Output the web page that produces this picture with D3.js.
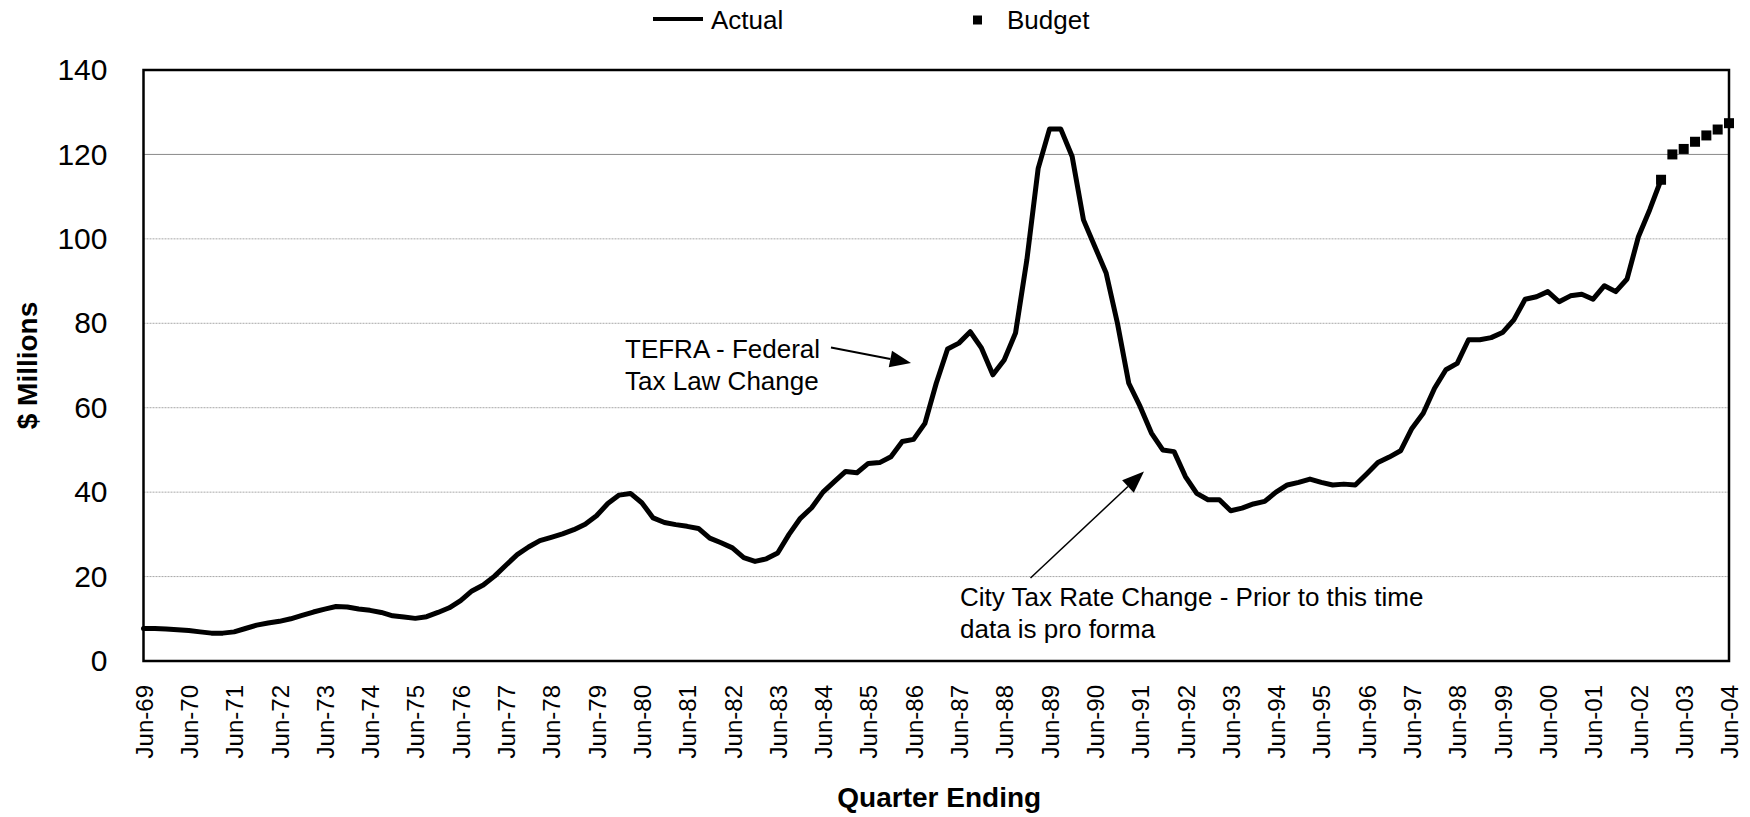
<!DOCTYPE html>
<html>
<head>
<meta charset="utf-8">
<script src="https://cdn.jsdelivr.net/npm/d3@7"></script>
<style>
  html, body { margin: 0; padding: 0; background: #fff; }
  svg { display: block; }
  text { font-family: "Liberation Sans", Arial, Helvetica, sans-serif; fill: #000; }
</style>
</head>
<body>
<svg id="chart" width="1750" height="817"></svg>
<script>
// Quarter-ending categories, Jun-69 through Jun-04
const monthNames = ["Jun", "Sep", "Dec", "Mar"];
const startYear = 1969;
const quarters = d3.range(141).map(i => {
  const m = monthNames[i % 4];
  const yr = startYear + Math.floor(i / 4) + (m === "Mar" ? 1 : 0);
  return m + "-" + String(yr % 100).padStart(2, "0");
});

// Tick labels (one per June)
const tickLabels = [
  "Jun-69","Jun-70","Jun-71","Jun-72","Jun-73","Jun-74","Jun-75","Jun-76","Jun-77",
  "Jun-78","Jun-79","Jun-80","Jun-81","Jun-82","Jun-83","Jun-84","Jun-85","Jun-86",
  "Jun-87","Jun-88","Jun-89","Jun-90","Jun-91","Jun-92","Jun-93","Jun-94","Jun-95",
  "Jun-96","Jun-97","Jun-98","Jun-99","Jun-00","Jun-01","Jun-02","Jun-03","Jun-04"
];

// Actual quarterly receipts, $ millions (Jun-69 .. Dec-02)
const actual = [
  7.7, 7.7, 7.6, 7.4, 7.2, 6.9, 6.6, 6.6, 6.9, 7.7, 8.5, 9.0,
  9.4, 10.0, 10.8, 11.6, 12.3, 12.9, 12.8, 12.3, 12.0, 11.5, 10.7, 10.4,
  10.1, 10.5, 11.5, 12.6, 14.3, 16.6, 18.0, 20.1, 22.7, 25.2, 27.0, 28.5,
  29.3, 30.1, 31.1, 32.4, 34.4, 37.3, 39.3, 39.7, 37.5, 33.9, 32.8, 32.3,
  31.9, 31.4, 29.1, 28.0, 26.8, 24.5, 23.6, 24.2, 25.6, 30.0, 33.8, 36.3,
  40.0, 42.5, 44.9, 44.6, 46.8, 47.0, 48.4, 52.0, 52.5, 56.3, 65.8, 73.9,
  75.3, 78.0, 74.1, 67.8, 71.3, 77.7, 95.0, 116.7, 126.0, 126.0, 119.5, 104.5,
  98.2, 91.9, 80.0, 65.8, 60.3, 54.0, 50.0, 49.6, 43.7, 39.7, 38.2, 38.2,
  35.6, 36.2, 37.2, 37.8, 40.0, 41.7, 42.3, 43.1, 42.3, 41.7, 41.9, 41.7,
  44.3, 47.0, 48.3, 49.8, 55.1, 58.7, 64.6, 69.0, 70.5, 76.1, 76.1, 76.6,
  77.8, 80.8, 85.7, 86.3, 87.5, 85.1, 86.5, 86.9, 85.7, 88.9, 87.5, 90.5,
  100.5, 106.9, 114.0
];

// Budget, $ millions (Dec-02 .. Jun-04)
const budgetStart = 134;
const budget = [114.0, 120.0, 121.3, 123.0, 124.5, 125.9, 127.4];

const yTicks = [0, 20, 40, 60, 80, 100, 120, 140];

// Layout
const svg = d3.select("#chart");
const W = 1750, H = 817;
const plot = { left: 143.5, right: 1729, top: 70, bottom: 661 };

svg.append("rect").attr("width", W).attr("height", H).attr("fill", "#fff");

const x = d3.scalePoint().domain(quarters).range([plot.left, plot.right]);
const y = d3.scaleLinear().domain([0, 140]).range([plot.bottom, plot.top]);

// Horizontal gridlines
svg.append("g").selectAll("line")
  .data(yTicks.filter(v => v > 0 && v < 140))
  .join("line")
  .attr("x1", plot.left).attr("x2", plot.right)
  .attr("y1", d => y(d)).attr("y2", d => y(d))
  .attr("stroke", d => d === 120 ? "#8a8a8a" : "#a8a8a8")
  .attr("stroke-width", 1)
  .attr("stroke-dasharray", d => d === 120 ? null : "2,1");

// Y axis labels
const yAxis = svg.append("g")
  .attr("transform", `translate(${plot.left},0)`)
  .call(d3.axisLeft(y).tickValues(yTicks).tickSize(0).tickPadding(36).tickFormat(d3.format("d")));
yAxis.select(".domain").remove();
yAxis.selectAll("text")
  .attr("font-size", 30)
  .attr("font-family", "Liberation Sans, Arial, sans-serif");

// X axis labels (rotated)
const xAxis = svg.append("g")
  .attr("transform", `translate(0,${plot.bottom})`)
  .call(d3.axisBottom(x).tickValues(tickLabels).tickSize(0));
xAxis.select(".domain").remove();
xAxis.selectAll("text")
  .attr("font-size", 24)
  .attr("font-family", "Liberation Sans, Arial, sans-serif")
  .attr("transform", "rotate(-90)")
  .attr("text-anchor", "end")
  .attr("x", -24)
  .attr("y", 0)
  .attr("dy", "0.36em");

// Actual line
const line = d3.line()
  .x((d, i) => x(quarters[i]))
  .y(d => y(d));
svg.append("path")
  .datum(actual)
  .attr("d", line)
  .attr("fill", "none")
  .attr("stroke", "#000")
  .attr("stroke-width", 5)
  .attr("stroke-linejoin", "round")
  .attr("stroke-linecap", "round");

// Budget markers
svg.append("g").selectAll("rect")
  .data(budget)
  .join("rect")
  .attr("x", (d, i) => x(quarters[budgetStart + i]) - 5)
  .attr("y", d => y(d) - 5)
  .attr("width", 10).attr("height", 10)
  .attr("fill", "#000");

// Plot frame
svg.append("rect")
  .attr("x", plot.left).attr("y", plot.top)
  .attr("width", plot.right - plot.left)
  .attr("height", plot.bottom - plot.top)
  .attr("fill", "none")
  .attr("stroke", "#000")
  .attr("stroke-width", 2.5);

// Axis titles
svg.append("text")
  .attr("transform", `translate(37,${(plot.top + plot.bottom) / 2}) rotate(-90)`)
  .attr("text-anchor", "middle")
  .attr("font-size", 28)
  .attr("font-weight", "bold")
  .text("$ Millions");

svg.append("text")
  .attr("x", (plot.left + plot.right) / 2 + 3)
  .attr("y", 807)
  .attr("text-anchor", "middle")
  .attr("font-size", 28)
  .attr("font-weight", "bold")
  .text("Quarter Ending");

// Legend
const legend = svg.append("g");
legend.append("line")
  .attr("x1", 653).attr("x2", 703).attr("y1", 19).attr("y2", 19)
  .attr("stroke", "#000").attr("stroke-width", 4);
legend.append("text").attr("x", 711).attr("y", 29).attr("font-size", 26).text("Actual");
legend.append("rect").attr("x", 973).attr("y", 15.5).attr("width", 9).attr("height", 9).attr("fill", "#000");
legend.append("text").attr("x", 1007).attr("y", 29).attr("font-size", 26).text("Budget");

// Annotation arrows
function arrow(x1, y1, x2, y2, width, headLen, headHalf) {
  const ang = Math.atan2(y2 - y1, x2 - x1);
  const bx = x2 - headLen * Math.cos(ang), by = y2 - headLen * Math.sin(ang);
  svg.append("line")
    .attr("x1", x1).attr("y1", y1).attr("x2", bx).attr("y2", by)
    .attr("stroke", "#000").attr("stroke-width", width);
  const px = -Math.sin(ang) * headHalf, py = Math.cos(ang) * headHalf;
  svg.append("path")
    .attr("d", `M${x2},${y2}L${bx + px},${by + py}L${bx - px},${by - py}Z`)
    .attr("fill", "#000");
}

const tefra = svg.append("text").attr("font-size", 26);
tefra.append("tspan").attr("x", 625).attr("y", 358).text("TEFRA - Federal");
tefra.append("tspan").attr("x", 625).attr("y", 390).text("Tax Law Change");
arrow(831, 347.5, 911, 363, 2, 21, 8.5);

const city = svg.append("text").attr("font-size", 26);
city.append("tspan").attr("x", 960).attr("y", 606).text("City Tax Rate Change - Prior to this time");
city.append("tspan").attr("x", 960).attr("y", 638).text("data is pro forma");
arrow(1030.5, 578, 1144, 471.5, 1.5, 22, 8.5);
</script>
</body>
</html>
